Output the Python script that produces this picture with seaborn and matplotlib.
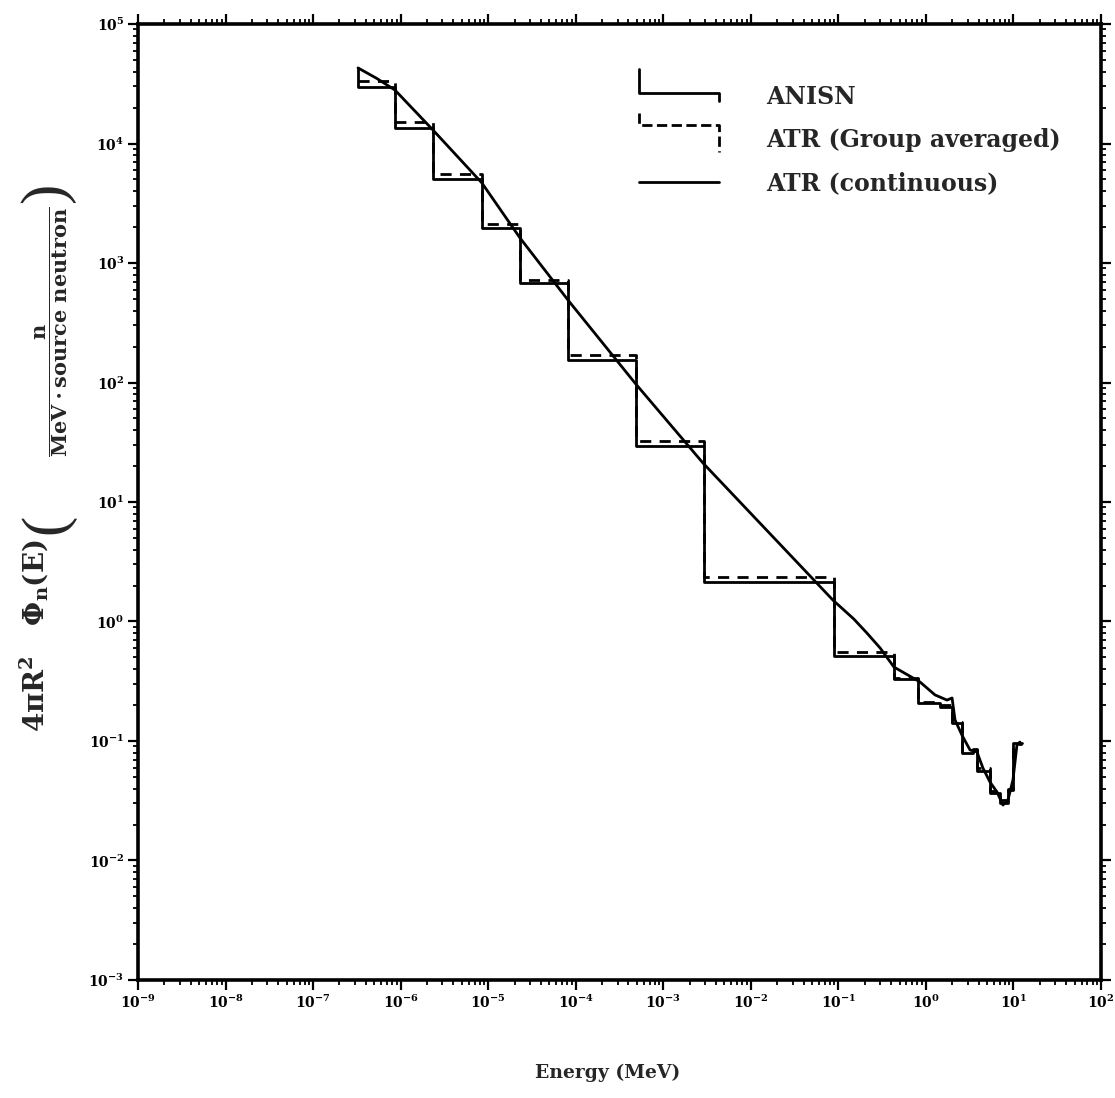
import numpy as np
import pandas as pd
import matplotlib
matplotlib.use("Agg")
import matplotlib.pyplot as plt
import seaborn as sns
from matplotlib.legend_handler import HandlerBase
from matplotlib.lines import Line2D
from matplotlib.ticker import LogLocator, FuncFormatter, NullFormatter

# ---------------- data ----------------
group_edges_mev = [3.26e-7, 8.61e-7, 2.34e-6, 8.49e-6, 2.31e-5, 8.15e-5, 4.88e-4, 2.92e-3,
                   0.0891, 0.431, 0.811, 1.45, 1.99, 2.58, 3.45, 3.83, 5.39, 7.02, 8.65,
                   9.87, 12.5]
anisn_flux = [29900, 13400, 5010, 1963, 681, 154, 29.4, 2.15, 0.515,
              0.330, 0.208, 0.194, 0.1416, 0.0794, 0.0841, 0.056, 0.0367, 0.0303,
              0.0389, 0.0962]
atr_group_flux = [33500, 15200, 5560, 2120, 721, 170, 32.6, 2.37, 0.559,
                  0.335, 0.214, 0.200, 0.145, 0.082, 0.086, 0.059, 0.038, 0.032,
                  0.040, 0.094]
anisn_top_flux = 42900

cont_energy = [3.26e-7, 5.32e-7, 8.61e-7, 2.34e-6, 8.49e-6, 2.31e-5, 8.15e-5, 4.75e-4,
               2.84e-3, 0.0867, 0.15, 0.212, 0.30, 0.431, 0.855, 1.27, 1.74, 1.99, 2.15,
               2.58, 3.19, 3.83, 4.48, 5.39, 6.49, 7.59, 8.65, 9.87, 10.96, 11.86]
cont_flux = [42900, 35100, 28000, 12970, 4670, 1620, 490, 99,
             21.2, 1.51, 1.05, 0.80, 0.60, 0.416, 0.312, 0.243, 0.220, 0.229, 0.150,
             0.112, 0.0841, 0.081, 0.0594, 0.0454, 0.0374, 0.0291, 0.0321, 0.0472,
             0.0927, 0.098]

legend_labels = ["ANISN", "ATR (Group averaged)", "ATR (continuous)"]
x_label = "Energy (MeV)"
y_label_main = r"$4\pi R^2\quad \Phi_n(E)$"
y_label_unit = r"$\dfrac{n}{\mathbf{MeV\cdot source\ neutron}}$"

# ---------------- style ----------------
sns.set_style("ticks")
plt.rcParams["font.family"] = ["DejaVu Serif", "DejaVu Sans"]
plt.rcParams["font.weight"] = "bold"
plt.rcParams["mathtext.fontset"] = "dejavuserif"
plt.rcParams["mathtext.default"] = "bf"

fig = plt.figure(figsize=(11.15, 10.98), dpi=100)
ax = fig.add_axes([0.12377, 0.10747, 0.86368, 0.87067])
ax.set_xscale("log")
ax.set_yscale("log")

# step tables built from the group values
anisn_df = pd.DataFrame({
    "E": [group_edges_mev[0]] + group_edges_mev,
    "flux": [anisn_top_flux] + anisn_flux + [anisn_flux[-1]],
})
group_df = pd.DataFrame({
    "E": group_edges_mev,
    "flux": atr_group_flux + [atr_group_flux[-1]],
})
cont_df = pd.DataFrame({"E": cont_energy, "flux": cont_flux})

lw = 2.0
dash = (0, (4, 3))
sns.lineplot(data=anisn_df, x="E", y="flux", ax=ax, sort=False, estimator=None,
             color="black", linewidth=lw, drawstyle="steps-post", legend=False)
sns.lineplot(data=group_df, x="E", y="flux", ax=ax, sort=False, estimator=None,
             color="black", linewidth=lw, linestyle=dash,
             drawstyle="steps-post", legend=False)
sns.lineplot(data=cont_df, x="E", y="flux", ax=ax, sort=False, estimator=None,
             color="black", linewidth=lw, legend=False)

ax.set_xlim(1e-9, 1e2)
ax.set_ylim(1e-3, 1e5)

fmt = FuncFormatter(lambda v, p: r"$10^{%d}$" % int(round(np.log10(v))))
for axis in (ax.xaxis, ax.yaxis):
    axis.set_major_locator(LogLocator(base=10, numticks=30))
    axis.set_minor_locator(LogLocator(base=10, subs=np.arange(2, 10), numticks=300))
    axis.set_major_formatter(fmt)
    axis.set_minor_formatter(NullFormatter())

ax.tick_params(which="both", direction="out", top=True, right=True,
               labeltop=False, labelright=False, colors="black")
ax.tick_params(which="major", length=7, width=1.6, labelsize=10, pad=3)
ax.tick_params(which="minor", length=3.5, width=1.3)
for s in ax.spines.values():
    s.set_linewidth(2.6)
    s.set_color("black")

ax.set_xlabel(x_label, fontsize=13.5, fontweight="bold")
ax.xaxis.set_label_coords(0.488, -0.088)
ax.set_ylabel("")

# y-axis title: quantity, then the unit fraction in large parentheses
fig.text(0.0305, 0.421, y_label_main, rotation=90, ha="center", va="center",
         fontsize=20)
fig.text(0.046, 0.6975, y_label_unit, rotation=90, ha="center", va="center",
         fontsize=15)
fig.text(0.0425, 0.523, "(", rotation=90, ha="center", va="center",
         fontsize=44, fontweight="normal", family="Liberation Serif")
fig.text(0.0425, 0.824, ")", rotation=90, ha="center", va="center",
         fontsize=44, fontweight="normal", family="Liberation Serif")


# ---------------- legend with step-shaped glyphs ----------------
class StepHandler(HandlerBase):
    def __init__(self, kind):
        super().__init__()
        self.kind = kind

    def create_artists(self, legend, orig_handle, xdescent, ydescent,
                       width, height, fontsize, trans):
        x0 = -xdescent
        x1 = x0 + width
        ym = -ydescent + height / 2
        if self.kind == "anisn":
            xs = [x0, x0, x1, x1]
            ys = [ym + 1.6 * height, ym + 0.2 * height, ym + 0.2 * height, ym - 0.3 * height]
        elif self.kind == "group":
            xs = [x0, x0, x1, x1]
            ys = [ym + 1.55 * height, ym + 0.85 * height, ym + 0.85 * height, ym - 0.8 * height]
        else:
            xs = [x0, x1]
            ys = [ym, ym]
        line = Line2D(xs, ys, color=orig_handle.get_color(),
                      linewidth=orig_handle.get_linewidth(),
                      linestyle=orig_handle.get_linestyle())
        line.set_transform(trans)
        return [line]


h1 = Line2D([], [], color="black", lw=lw)
h2 = Line2D([], [], color="black", lw=lw, ls=dash)
h3 = Line2D([], [], color="black", lw=lw)
ax.legend([h1, h2, h3], legend_labels,
          handler_map={h1: StepHandler("anisn"), h2: StepHandler("group"),
                       h3: StepHandler("cont")},
          loc="upper left", bbox_to_anchor=(0.52, 0.936), frameon=False,
          prop={"family": "DejaVu Serif", "weight": "bold", "size": 17},
          handlelength=3.4, handletextpad=2.0, labelspacing=0.8,
          borderpad=0, borderaxespad=0)

fig.savefig("out.png", dpi=100)
